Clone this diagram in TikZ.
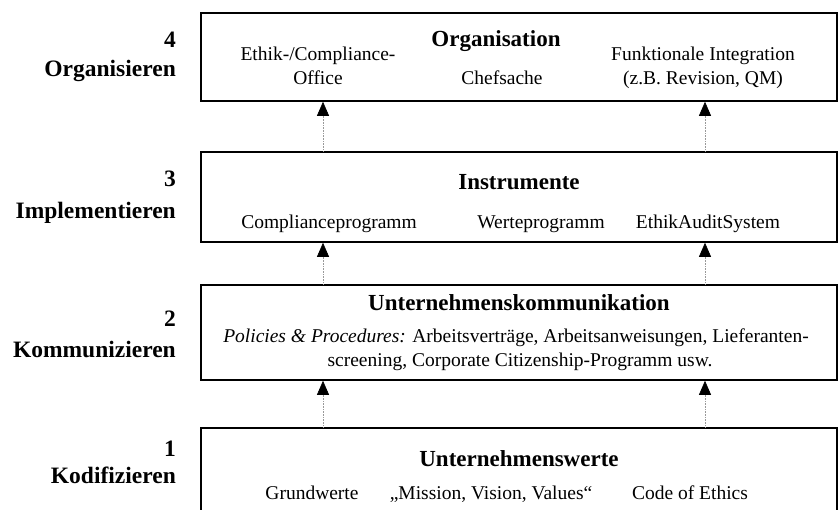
\documentclass[tikz,border=0pt]{standalone}
\usepackage{fontspec}
\setmainfont{Liberation Serif}
\usetikzlibrary{arrows.meta}

\begin{document}
\begin{tikzpicture}[x=1pt, y=-1pt,
    ebene/.style = {draw, line width=1.6pt, minimum width=636pt, inner sep=0pt},
    titel/.style = {anchor=base, font=\fontsize{23}{26}\selectfont\bfseries},
    eintrag/.style = {anchor=base, font=\fontsize{19.5}{23}\selectfont},
    stufe/.style = {anchor=base east, inner sep=0pt, font=\fontsize{23.5}{27}\selectfont\bfseries},
    pfeil/.style = {draw=gray!80, densely dotted, line width=0.6pt,
                    -{Triangle[width=12pt, length=14pt, black]}}]
    \useasboundingbox (0,0) rectangle (839,510);

    \node[ebene, minimum height=88pt] (org) at (519,57) {};
    \node[ebene, minimum height=90pt] (inst) at (519,197) {};
    \node[ebene, minimum height=95pt] (komm) at (519,332.5) {};
    \node[ebene, minimum height=130pt] (werte) at (519,493) {};

    \coordinate (links) at (323,0);
    \coordinate (rechts) at (705,0);

    \draw[pfeil] (inst.north -| links) -- (org.south -| links);
    \draw[pfeil] (inst.north -| rechts) -- (org.south -| rechts);
    \draw[pfeil] (komm.north -| links) -- (inst.south -| links);
    \draw[pfeil] (komm.north -| rechts) -- (inst.south -| rechts);
    \draw[pfeil] (werte.north -| links) -- (komm.south -| links);
    \draw[pfeil] (werte.north -| rechts) -- (komm.south -| rechts);

    \node[stufe] (n4) at (176,48) {4};
    \node[stufe] (s4) at (176,77) {Organisieren};
    \node[stufe] (n3) at (176,187) {3};
    \node[stufe] (s3) at (176,219) {Implementieren};
    \node[stufe] (n2) at (176,327) {2};
    \node[stufe] (s2) at (176,358) {Kommunizieren};
    \node[stufe] (n1) at (176,457) {1};
    \node[stufe] (s1) at (176,484) {Kodifizieren};

    \node[titel] (t4) at (496,47) {Organisation};
    \node[eintrag] (e4a) at (318,61) {Ethik-/Compliance-};
    \node[eintrag] (e4b) at (318,85) {Office};
    \node[eintrag] (e4c) at (502,85) {Chefsache};
    \node[eintrag] (e4d) at (703,61) {Funktionale Integration};
    \node[eintrag] (e4e) at (703,85) {(z.B. Revision, QM)};

    \node[titel] (t3) at (519,190) {Instrumente};
    \node[eintrag] (e3a) at (329,229) {Complianceprogramm};
    \node[eintrag] (e3b) at (541,229) {Werteprogramm};
    \node[eintrag] (e3c) at (708,229) {EthikAuditSystem};

    \node[titel] (t2) at (519,311) {Unternehmenskommunikation};
    \node[eintrag] (e2a) at (516,343) {\textit{Policies \& Procedures:} Arbeitsverträge, Arbeitsanweisungen, Lieferanten-};
    \node[eintrag] (e2b) at (520,367) {screening, Corporate Citizenship-Programm usw.};

    \node[titel] (t1) at (519,467) {Unternehmenswerte};
    \node[eintrag] (e1a) at (312,500) {Grundwerte};
    \node[eintrag] (e1b) at (491,500) {„Mission, Vision, Values“};
    \node[eintrag] (e1c) at (690,500) {Code of Ethics};
\end{tikzpicture}
\end{document}
